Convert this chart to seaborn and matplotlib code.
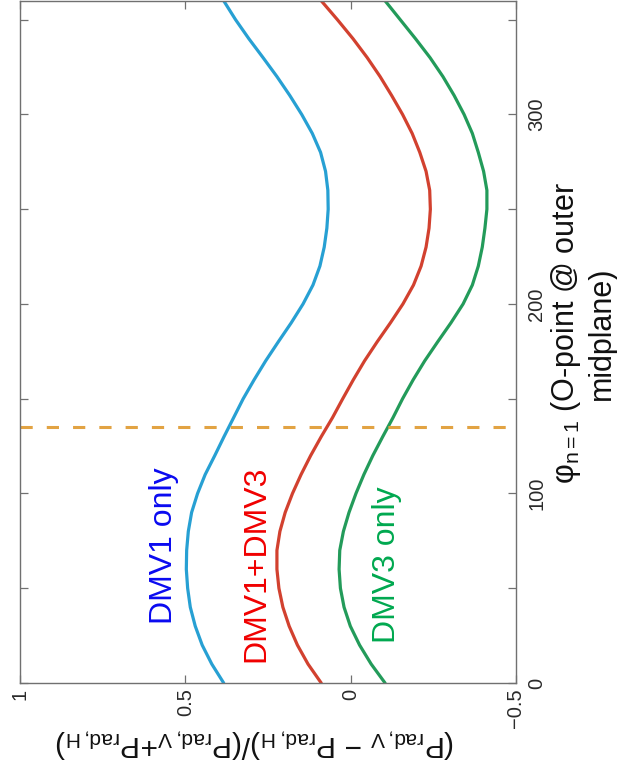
import numpy as np
import pandas as pd
import matplotlib
matplotlib.use("Agg")
import matplotlib.pyplot as plt
from matplotlib.ticker import FixedLocator
import seaborn as sns

# Toroidal phase of the n=1 O-point (degrees)
phi = [0, 10, 20, 30, 40, 50, 60, 70, 80, 90, 100, 110, 120,
       130, 140, 150, 160, 170, 180, 190, 200, 210, 220, 230, 240,
       250, 260, 270, 280, 290, 300, 310, 320, 330, 340, 350, 360]

# Radiated-power asymmetry (P_V - P_H)/(P_V + P_H) for each injector setup
dmv1_only = [0.384, 0.420, 0.449, 0.470, 0.485, 0.493, 0.497, 0.496, 0.491,
             0.481, 0.463, 0.440, 0.411, 0.383, 0.354, 0.325, 0.292, 0.257,
             0.219, 0.180, 0.144, 0.114, 0.093, 0.080, 0.072, 0.068, 0.069,
             0.076, 0.091, 0.116, 0.148, 0.184, 0.223, 0.265, 0.308, 0.348,
             0.384]
dmv1_dmv3 = [0.089, 0.129, 0.161, 0.186, 0.205, 0.217, 0.223, 0.223, 0.214,
             0.198, 0.176, 0.150, 0.121, 0.089, 0.055, 0.024, -0.008, -0.042,
             -0.080, -0.120, -0.158, -0.190, -0.213, -0.228, -0.237, -0.241,
             -0.239, -0.228, -0.209, -0.186, -0.157, -0.124, -0.089, -0.050,
             -0.007, 0.040, 0.089]
dmv3_only = [-0.104, -0.062, -0.027, 0.001, 0.020, 0.031, 0.035, 0.033, 0.022,
             0.005, -0.016, -0.040, -0.067, -0.097, -0.128, -0.157, -0.189,
             -0.224, -0.263, -0.303, -0.340, -0.368, -0.386, -0.398, -0.406,
             -0.412, -0.412, -0.402, -0.386, -0.368, -0.343, -0.313, -0.279,
             -0.240, -0.196, -0.150, -0.104]

series_names = ["DMV1 only", "DMV1+DMV3", "DMV3 only"]
line_colors = ["#27a0d3", "#d2412f", "#239b5a"]
text_colors = ["#0a0af0", "#f00000", "#00a84f"]
# label anchor (value, phase) for each series
label_value = [0.539, 0.261, -0.133]
label_phi = [72.7, 63.0, 62.5]

marker_phi = 135  # phase of reference marker line

value_ticks = [1, 0.5, 0, -0.5]
value_ticklabels = ["1", "0.5", "0", "\u22120.5"]
phi_major = [0, 100, 200, 300]
phi_minor = [50, 150, 250, 350]

df = pd.DataFrame({
    "phi": phi * 3,
    "ratio": dmv1_only + dmv1_dmv3 + dmv3_only,
    "case": [series_names[0]] * len(phi) + [series_names[1]] * len(phi)
            + [series_names[2]] * len(phi),
})

sns.set_style("ticks")
plt.rcParams["font.family"] = ["Liberation Sans", "DejaVu Sans"]
plt.rcParams["mathtext.fontset"] = "custom"
plt.rcParams["mathtext.rm"] = "Liberation Sans"
plt.rcParams["mathtext.it"] = "Liberation Sans:italic"
plt.rcParams["lines.solid_joinstyle"] = "round"

fig = plt.figure(figsize=(6.17, 7.67), dpi=100)
ax = fig.add_axes([20 / 617, 1 - 683 / 767, 496 / 617, 683 / 767 - 0.001])

sns.lineplot(data=df, x="ratio", y="phi", hue="case", orient="y",
             palette=dict(zip(series_names, line_colors)), linewidth=2.3,
             legend=False, ax=ax)
ax.axhline(marker_phi, color="#e2a343", lw=2.2, ls=(0, (4, 4.6)))

for name, v, p, c in zip(series_names, label_value, label_phi, text_colors):
    ax.text(v, p, name, color=c, fontsize=23, rotation=90,
            rotation_mode="anchor", ha="center", va="baseline")

ax.set_xlim(1, -0.5)
ax.set_ylim(0, 360)
ax.set_xticks(value_ticks)
ax.set_xticklabels(value_ticklabels, rotation=90)
ax.yaxis.set_major_locator(FixedLocator(phi_major))
ax.yaxis.set_minor_locator(FixedLocator(phi_minor))
ax.set_yticklabels([str(t) for t in phi_major], rotation=90, va="center")
ax.set_xlabel("")
ax.set_ylabel("")

spine_c = "#707070"
for s in ax.spines.values():
    s.set_color(spine_c)
    s.set_linewidth(1.0)
ax.tick_params(which="both", direction="in", length=5.5, width=0.9,
               color=spine_c, top=True, bottom=True, left=True, right=True,
               labelleft=False, labelright=True, labelcolor="#2a2a2a",
               labelsize=14.5)
ax.tick_params(axis="x", pad=4)
ax.tick_params(axis="y", which="both", pad=8)

fig.text(583 / 617, 1 - 333 / 767,
         "\u03c6$_{\\mathregular{n=1}}$ (O-point @ outer\nmidplane)",
         rotation=90, ha="center", va="center", multialignment="center",
         fontsize=22, color="#111111")
fig.text(255 / 617, 1 - 743 / 767,
         "(P$_{\\mathregular{rad,V}}$ \u2212 P$_{\\mathregular{rad,H}}$)/"
         "(P$_{\\mathregular{rad,V}}$+P$_{\\mathregular{rad,H}}$)",
         rotation=180, ha="center", va="center", fontsize=21.5,
         color="#111111")

fig.savefig("out.png", dpi=100)
